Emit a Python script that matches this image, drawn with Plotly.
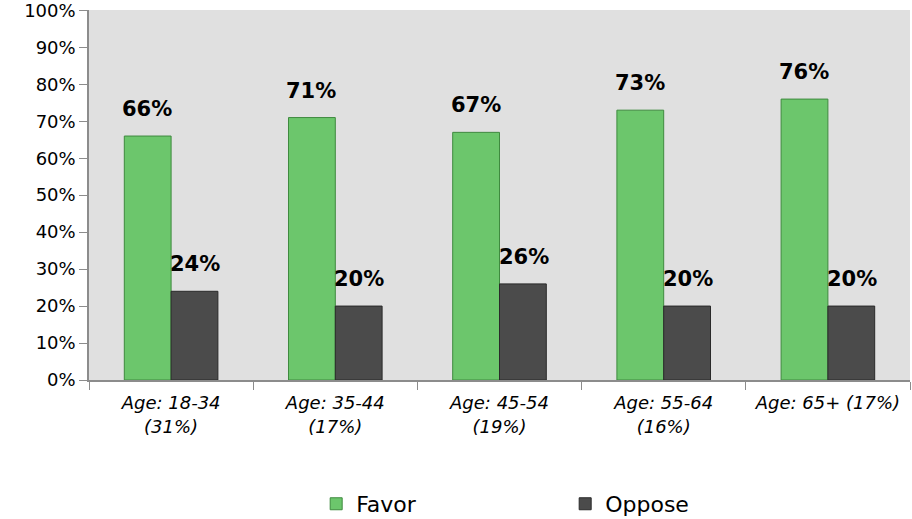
import plotly.graph_objects as go

categories = ["Age: 18-34<br>(31%)", "Age: 35-44<br>(17%)", "Age: 45-54<br>(19%)",
              "Age: 55-64<br>(16%)", "Age: 65+ (17%)"]
favor = [0.66, 0.71, 0.67, 0.73, 0.76]
oppose = [0.24, 0.20, 0.26, 0.20, 0.20]
series_names = ["Favor", "Oppose"]
y_ticks = [0, 0.1, 0.2, 0.3, 0.4, 0.5, 0.6, 0.7, 0.8, 0.9, 1.0]

FONT = "DejaVu Sans"
fig = go.Figure()
fig.add_trace(go.Bar(x=categories, y=favor, name=series_names[0],
                     marker=dict(color="#6cc66c", line=dict(color="#3f8a3f", width=1))))
fig.add_trace(go.Bar(x=categories, y=oppose, name=series_names[1],
                     marker=dict(color="#4b4b4b", line=dict(color="#2a2a2a", width=1))))

annotations = []
for vals, shift in ((favor, -24), (oppose, 24)):
    for c, v in zip(categories, vals):
        annotations.append(dict(x=c, y=v, xref="x", yref="y", text=f"<b>{round(v*100)}%</b>",
                                showarrow=False, xshift=shift, yshift=13, yanchor="bottom",
                                font=dict(family=FONT, size=21, color="black")))

fig.update_layout(
    width=912, height=519,
    margin=dict(l=89, r=2, t=10, b=139, autoexpand=False),
    paper_bgcolor="white", plot_bgcolor="#e0e0e0",
    barmode="group", bargap=0.43, bargroupgap=0,
    font=dict(family=FONT, size=18, color="black"),
    showlegend=True,
    legend=dict(orientation="h", x=0.58, xanchor="center", y=-0.335, yanchor="middle",
                entrywidth=204, font=dict(family=FONT, size=22, color="black"),
                bgcolor="rgba(0,0,0,0)"),
    annotations=annotations,
)
fig.update_yaxes(range=[0, 1.001], tickvals=y_ticks, tickformat=".0%", showgrid=False,
                 showline=True, linecolor="#8c8c8c", linewidth=1.5, ticks="outside",
                 ticklen=8, tickcolor="#8c8c8c", zeroline=False, automargin=False,
                 ticklabeloverflow="allow",
                 tickfont=dict(family=FONT, size=18, color="black"))
fig.update_xaxes(showgrid=False, showline=True, linecolor="#8c8c8c", linewidth=1.5,
                 ticks="outside", ticklen=8, tickcolor="#8c8c8c", tickson="boundaries",
                 automargin=False, ticklabelstandoff=6,
                 tickfont=dict(family=FONT, size=18, color="black", style="italic"))
fig.write_html("out.html", config={"displayModeBar": False},
               post_script="document.body.style.margin='0';")
